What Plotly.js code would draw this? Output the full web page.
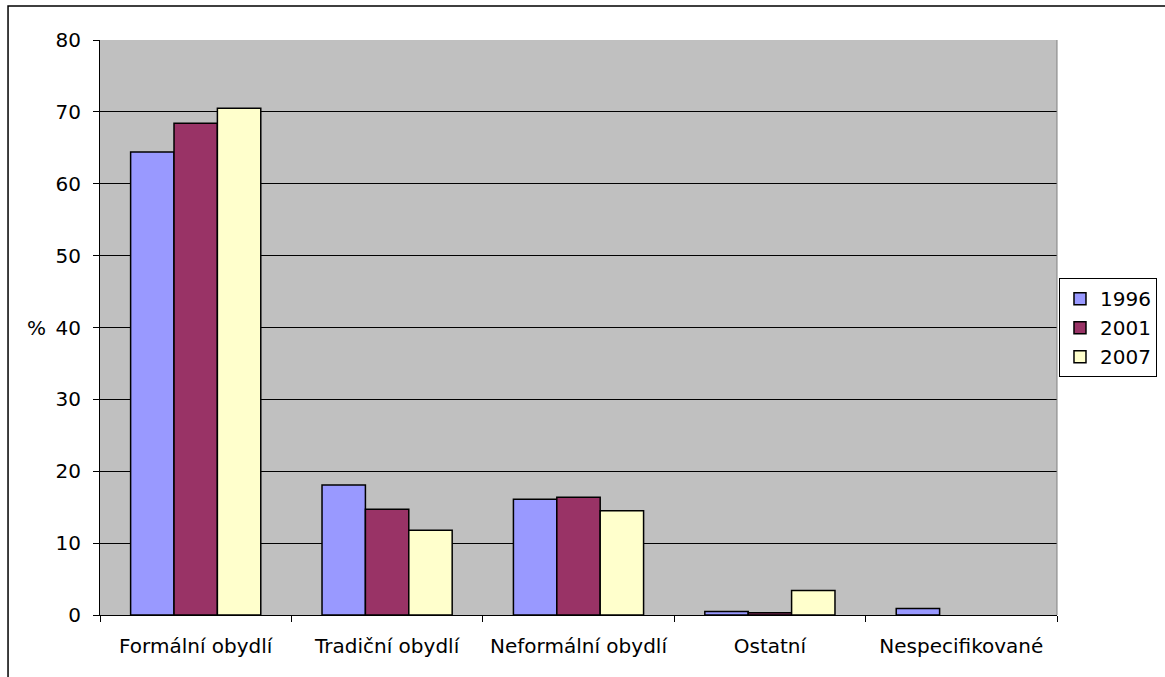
<!DOCTYPE html>
<html>
<head>
<meta charset="utf-8">
<script src="https://cdn.plot.ly/plotly-3.0.1.min.js"></script>
<style>
  html, body { margin: 0; padding: 0; background: #ffffff; }
  #chart { width: 1165px; height: 677px; }
</style>
</head>
<body>
<div id="chart"></div>
<script>
// Housing types (share of households, %)
const categories = ["Formální obydlí", "Tradiční obydlí", "Neformální obydlí", "Ostatní", "Nespecifikované"];
const years = ["1996", "2001", "2007"];
const values1996 = [64.4, 18.1, 16.1, 0.5, 0.9];
const values2001 = [68.4, 14.7, 16.4, 0.3, null];
const values2007 = [70.5, 11.8, 14.5, 3.4, null];
const seriesValues = [values1996, values2001, values2007];
const seriesColors = ["#9999FF", "#993366", "#FFFFCC"];
const yTicks = [0, 10, 20, 30, 40, 50, 60, 70, 80];

const font = { family: "DejaVu Sans, Verdana, sans-serif", size: 20, color: "#000000" };

const traces = years.map((y, i) => ({
  type: "bar",
  name: y,
  x: categories,
  y: seriesValues[i],
  marker: { color: seriesColors[i], line: { color: "#000000", width: 1.5 } },
  hoverinfo: "x+y+name"
}));

const layout = {
  width: 1165,
  height: 677,
  margin: { l: 100, r: 108, t: 40, b: 62 },
  paper_bgcolor: "#ffffff",
  plot_bgcolor: "#C0C0C0",
  font: font,
  barmode: "group",
  bargap: 0.32,
  bargroupgap: 0,
  showlegend: true,
  legend: {
    xref: "container", yref: "container",
    x: 0.909, xanchor: "left",
    y: 0.516, yanchor: "middle",
    bgcolor: "#ffffff",
    bordercolor: "#000000",
    borderwidth: 1,
    font: font,
    itemwidth: 30
  },
  xaxis: {
    type: "category",
    showline: true,
    linecolor: "#000000",
    linewidth: 1,
    ticks: "outside",
    tickson: "boundaries",
    ticklen: 6,
    tickcolor: "#000000",
    tickangle: 0,
    showgrid: false,
    tickfont: font,
    ticklabelstandoff: 13,
    automargin: false,
    fixedrange: true
  },
  yaxis: {
    range: [0, 80],
    tickvals: yTicks,
    ticktext: yTicks.map(String),
    showline: true,
    linecolor: "#000000",
    linewidth: 1,
    ticks: "outside",
    ticklen: 6,
    tickcolor: "#000000",
    showgrid: true,
    gridcolor: "#000000",
    gridwidth: 1,
    zeroline: false,
    tickfont: font,
    ticklabelstandoff: 8,
    automargin: false,
    fixedrange: true
  },
  annotations: [{
    text: "%",
    xref: "paper", yref: "paper",
    x: -0.066, y: 0.5,
    xanchor: "center", yanchor: "middle",
    showarrow: false,
    font: font
  }],
  shapes: [
    // plot area frame on the right
    { type: "line", xref: "paper", yref: "paper", x0: 1, x1: 1, y0: 0, y1: 1,
      line: { color: "#808080", width: 1 } },
    // chart area frame
    { type: "path", xref: "paper", yref: "paper",
      path: "M -0.0961,-0.2 L -0.0961,1.059 L 1.2,1.059",
      line: { color: "#000000", width: 1.5 } }
  ]
};

Plotly.newPlot("chart", traces, layout, { displayModeBar: false, staticPlot: true });
</script>
</body>
</html>
